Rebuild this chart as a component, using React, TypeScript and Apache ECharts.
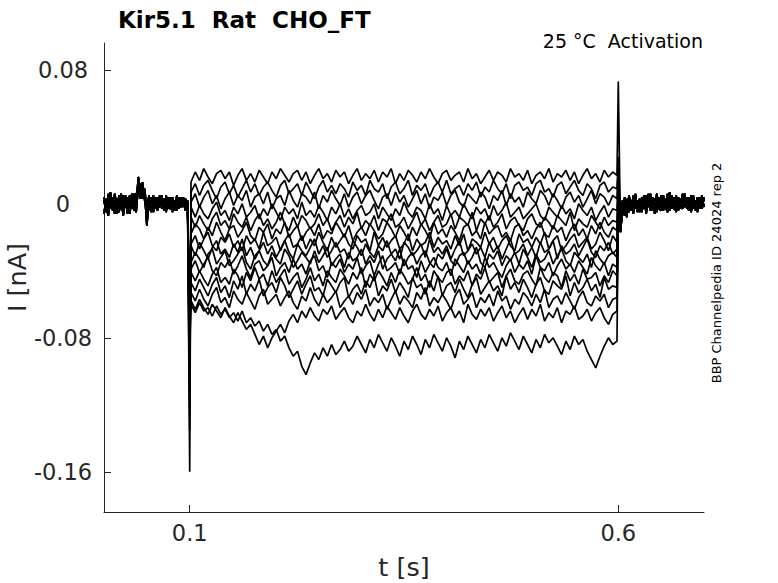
import { useEffect, useRef } from "react";
import * as echarts from "echarts";

// Axis ticks (t in s, I in nA)
const xTicks = [0.1, 0.6];
const yTicks = [-0.16, -0.08, 0, 0.08];

// Baseline segments before the step (t = 0 .. 0.0975 s, step 0.0025 s), values in 1e-3 nA
const preA = [2, -5, 6, -3, 4, -6, 3, -2, 6, -4, 2, -6, 5, -3, 6, -2, 16, 8, 10, 6, -13, 3, -5, 5, -3, 4, -2, 5, -4, 3, -3, 4, -5, 2, -3, 4, -2, 3, -4, 2];
const preB = [-6, 3, -2, 7, -4, 2, -6, 5, -3, 5, -2, 4, -6, 3, -4, 6, 7, 12, 3, 9, -6, -3, 4, -5, 2, -4, 5, -3, 3, -5, 4, -2, 3, -4, 5, -3, 4, -2, 3, -3];
const preC = [4, -2, -7, 2, -3, 6, -1, -5, 2, -7, 5, 0, -3, 6, -2, -5, 10, 3, 13, 2, -4, 5, -2, -4, 4, -3, -1, 3, -4, 5, -2, -3, 4, -1, -4, 3, -2, 4, -3, 1];

// Baseline segments after the step (t = 0.6025 .. 0.7 s, step 0.0025 s), values in 1e-3 nA
const postA = [-14, -6, 4, -5, 3, -4, 5, -3, 2, -5, 4, -3, 5, -2, 6, -4, 3, -5, 4, -2, 5, -3, 6, -4, 2, -3, 5, -4, 3, -2, 5, -3, 4, -5, 3, -2, 4, -3, 5, -2];
const postB = [-10, 2, -7, 3, -5, 2, -6, 4, -4, 3, -5, 2, -4, 6, -3, 4, -6, 2, -3, 5, -4, 3, -2, 7, -3, 4, -5, 3, -3, 6, -2, 4, -4, 5, -3, 2, -5, 4, -2, 3];
const postC = [-17, -3, -2, -8, 5, -2, -3, 6, -5, 1, -2, 5, -6, 3, -4, 2, -1, 6, -3, -4, 4, -2, -5, 3, 5, -3, -4, 4, -1, -3, 6, -2, -4, 2, 5, -4, -1, 3, -3, 4];

// Capacitive transients at step on (t = 0.1) and off (t = 0.6), 1e-3 nA
const onsetPeak = [-160, -135, -122, -110, -100, -95, -90, -86, -82, -78, -75, -72, -70, -68, -84];
const offsetPeak = [73, 28, 22, 18, 12, 10, 8, 6, 5, 4, 3, 2, 2, 1, 0];

// Currents during the step (t = 0.1015 .. 0.5985 s, 101 evenly spaced samples), 1e-3 nA
const trace00 = [13, 19, 14, 21, 16, 12, 18, 20, 15, 19, 11, 17, 21, 14, 18, 13, 20, 16, 12, 19, 15, 21, 17, 13, 18, 20, 14, 19, 12, 17, 21, 15, 18, 13, 20, 16, 19, 12, 17, 21, 14, 18, 15, 20, 13, 19, 16, 21, 12, 18, 14, 20, 17, 13, 19, 15, 21, 16, 12, 18, 20, 14, 17, 19, 13, 21, 15, 18, 12, 16, 20, 14, 19, 17, 13, 21, 16, 18, 14, 20, 12, 17, 19, 15, 21, 13, 18, 16, 20, 14, 19, 12, 17, 21, 15, 18, 13, 20, 16, 19, 17];
const trace01 = [7, 12, 5, 11, 14, 8, 3, 10, 13, 6, 11, 4, 9, 14, 7, 12, 5, 10, 13, 8, 4, 11, 14, 6, 9, 12, 5, 13, 8, 3, 10, 14, 7, 11, 6, 12, 9, 4, 13, 8, 11, 5, 14, 9, 7, 12, 3, 10, 13, 6, 9, 14, 5, 11, 8, 12, 4, 10, 13, 7, 14, 6, 9, 11, 5, 12, 8, 13, 4, 10, 7, 14, 9, 6, 12, 3, 11, 13, 8, 10, 5, 12, 14, 7, 9, 4, 11, 13, 6, 10, 14, 8, 5, 12, 9, 3, 11, 13, 7, 10, 9];
const trace02 = [1, 6, -2, 4, 8, 0, 5, -3, 3, 7, -1, 5, 2, 8, -2, 4, 6, 0, 7, -3, 3, 5, -1, 8, 2, -2, 6, 4, 0, 7, -3, 5, 1, 8, 3, -1, 6, -2, 4, 7, 0, 5, 8, 2, -3, 4, 6, -1, 7, 1, 5, -2, 3, 8, 0, 6, -3, 4, 2, 7, -1, 5, 8, 1, -2, 6, 3, 0, 7, 4, -3, 5, 2, 8, -1, 6, 1, 4, -2, 7, 3, 0, 8, 5, -1, 6, 2, -3, 4, 7, 1, 5, -2, 3, 8, 0, 6, 4, -1, 5, 3];
const trace03 = [-2, -8, -1, -6, -9, -3, 1, -7, -4, -10, -2, -6, 0, -8, -5, -1, -9, -3, -7, 0, -5, -10, -2, -6, -3, -9, 1, -7, -4, -8, -1, -5, -10, -2, -6, 0, -8, -3, -9, -4, -1, -7, -5, 0, -9, -2, -6, -10, -3, -7, 1, -5, -8, -2, -4, -9, 0, -6, -3, -10, -1, -7, -4, -8, 0, -5, -9, -2, -6, -3, -10, -1, -7, -4, 1, -8, -5, -2, -9, -6, -3, 0, -7, -10, -2, -5, -8, -1, -6, -3, -9, 0, -4, -7, -2, -10, -5, -1, -8, -3, -4];
const trace04 = [-8, -14, -7, -12, -16, -9, -5, -13, -10, -15, -6, -11, -14, -8, -16, -10, -6, -13, -9, -15, -11, -5, -12, -16, -8, -14, -7, -10, -15, -12, -6, -13, -9, -16, -11, -7, -14, -8, -12, -5, -15, -10, -13, -7, -16, -9, -11, -6, -14, -12, -8, -15, -10, -5, -13, -9, -16, -11, -7, -14, -12, -6, -15, -8, -10, -13, -5, -16, -9, -12, -7, -14, -11, -6, -15, -10, -8, -13, -16, -9, -6, -12, -14, -8, -11, -15, -7, -10, -13, -5, -16, -9, -12, -14, -7, -11, -15, -8, -13, -10, -11];
const trace05 = [-18, -12, -15, -21, -14, -19, -11, -17, -22, -15, -13, -20, -16, -11, -19, -22, -14, -17, -12, -21, -15, -18, -11, -20, -16, -13, -22, -17, -14, -19, -12, -21, -16, -18, -11, -15, -20, -13, -22, -17, -14, -19, -12, -16, -21, -18, -11, -15, -20, -13, -17, -22, -14, -19, -12, -16, -21, -11, -18, -15, -20, -13, -17, -22, -14, -12, -19, -16, -21, -11, -18, -15, -13, -20, -17, -22, -14, -12, -19, -16, -21, -15, -11, -18, -20, -13, -17, -14, -22, -16, -12, -19, -15, -21, -13, -18, -11, -17, -20, -14, -16];
const trace06 = [-24, -19, -27, -21, -17, -25, -28, -20, -23, -18, -26, -22, -28, -19, -24, -21, -27, -17, -25, -23, -20, -28, -22, -18, -26, -24, -19, -27, -21, -25, -17, -23, -28, -20, -26, -22, -18, -24, -27, -19, -23, -21, -28, -17, -25, -20, -26, -22, -19, -27, -24, -18, -28, -21, -25, -23, -17, -26, -20, -24, -22, -27, -19, -25, -18, -28, -21, -23, -26, -17, -24, -20, -27, -22, -19, -25, -28, -18, -23, -21, -26, -20, -24, -17, -27, -22, -19, -28, -25, -21, -18, -26, -23, -20, -27, -24, -17, -22, -28, -19, -23];
const trace07 = [-25, -31, -23, -28, -33, -26, -22, -30, -27, -32, -24, -29, -21, -31, -26, -33, -28, -23, -30, -25, -32, -27, -22, -29, -33, -24, -28, -31, -26, -21, -30, -25, -32, -28, -23, -29, -27, -33, -22, -26, -31, -24, -29, -32, -25, -28, -22, -30, -27, -33, -23, -26, -31, -28, -24, -32, -21, -29, -26, -30, -25, -33, -27, -22, -31, -28, -24, -30, -26, -32, -23, -29, -25, -33, -27, -21, -30, -28, -24, -31, -26, -32, -23, -29, -27, -22, -33, -25, -30, -28, -24, -31, -26, -21, -29, -32, -25, -28, -23, -30, -27];
const trace08 = [-35, -29, -33, -38, -30, -27, -36, -32, -28, -37, -34, -30, -26, -35, -39, -31, -28, -34, -37, -29, -33, -36, -27, -31, -38, -34, -29, -32, -36, -28, -35, -31, -26, -37, -33, -30, -38, -29, -34, -32, -27, -36, -31, -35, -28, -39, -33, -30, -34, -27, -37, -32, -29, -36, -31, -28, -35, -38, -30, -33, -27, -34, -37, -31, -29, -36, -32, -26, -35, -38, -30, -33, -28, -37, -31, -34, -29, -36, -27, -32, -38, -30, -35, -33, -28, -36, -31, -27, -34, -37, -29, -32, -35, -30, -38, -28, -33, -36, -31, -29, -32];
const trace09 = [-39, -34, -41, -36, -32, -40, -43, -35, -38, -33, -42, -37, -31, -39, -44, -36, -34, -40, -37, -32, -43, -38, -35, -41, -33, -39, -36, -42, -34, -31, -40, -37, -44, -35, -38, -33, -41, -36, -39, -32, -42, -37, -34, -43, -36, -31, -40, -38, -35, -42, -33, -39, -37, -44, -34, -41, -36, -32, -38, -40, -35, -43, -33, -37, -41, -34, -39, -36, -42, -32, -38, -35, -40, -44, -37, -33, -41, -36, -39, -34, -42, -31, -38, -40, -35, -43, -37, -33, -39, -36, -41, -34, -38, -42, -32, -37, -40, -35, -43, -36, -38];
const trace10 = [-41, -46, -40, -45, -49, -42, -38, -47, -44, -48, -39, -43, -50, -41, -46, -38, -45, -42, -49, -40, -47, -43, -39, -48, -44, -41, -50, -45, -38, -46, -42, -49, -40, -44, -47, -39, -43, -48, -41, -45, -38, -50, -42, -46, -40, -44, -49, -41, -47, -39, -43, -48, -45, -38, -46, -42, -50, -40, -44, -47, -41, -39, -48, -43, -46, -40, -49, -42, -45, -38, -47, -44, -41, -50, -43, -39, -46, -48, -42, -40, -45, -49, -38, -44, -47, -41, -43, -50, -40, -46, -42, -48, -39, -45, -44, -41, -49, -43, -47, -40, -43];
const trace11 = [-47, -52, -45, -50, -55, -48, -44, -53, -49, -56, -46, -51, -43, -54, -48, -52, -45, -55, -50, -47, -53, -44, -49, -56, -51, -46, -54, -48, -43, -52, -50, -55, -45, -49, -53, -47, -44, -56, -51, -48, -54, -46, -50, -43, -55, -49, -52, -45, -53, -47, -51, -56, -44, -50, -48, -54, -46, -52, -43, -55, -49, -47, -53, -45, -51, -56, -48, -44, -54, -50, -46, -52, -49, -55, -43, -51, -47, -53, -45, -50, -56, -48, -44, -52, -54, -46, -49, -51, -43, -55, -47, -53, -50, -45, -52, -48, -56, -44, -51, -49, -50];
const trace12 = [-53, -58, -51, -57, -61, -54, -50, -59, -56, -62, -52, -57, -60, -53, -58, -63, -55, -51, -60, -57, -54, -61, -56, -52, -59, -63, -55, -58, -50, -57, -61, -54, -59, -56, -52, -62, -58, -55, -60, -53, -57, -51, -61, -56, -59, -54, -63, -57, -52, -60, -55, -58, -62, -53, -57, -50, -61, -56, -59, -54, -58, -63, -55, -51, -60, -57, -53, -62, -56, -59, -54, -61, -52, -58, -55, -63, -57, -60, -53, -56, -61, -54, -59, -51, -62, -57, -55, -60, -53, -58, -63, -56, -52, -59, -61, -55, -58, -54, -62, -57, -56];
const trace13 = [-58, -63, -57, -62, -66, -60, -64, -68, -62, -67, -71, -65, -70, -75, -72, -78, -84, -79, -86, -80, -76, -72, -77, -70, -66, -71, -64, -68, -62, -67, -70, -63, -66, -61, -69, -65, -62, -68, -71, -64, -67, -60, -66, -70, -63, -68, -61, -65, -69, -62, -67, -71, -64, -60, -66, -69, -63, -67, -61, -70, -65, -62, -68, -64, -71, -60, -66, -69, -63, -67, -62, -70, -65, -61, -68, -64, -71, -66, -62, -69, -63, -67, -60, -70, -65, -68, -62, -71, -64, -66, -61, -69, -67, -63, -70, -65, -62, -68, -72, -66, -64];
const trace14 = [-60, -65, -59, -64, -62, -67, -61, -66, -63, -68, -65, -70, -64, -71, -68, -73, -70, -76, -72, -78, -75, -82, -79, -86, -91, -88, -97, -102, -95, -89, -93, -86, -91, -84, -90, -87, -82, -88, -85, -79, -84, -89, -81, -86, -78, -83, -88, -80, -85, -91, -82, -87, -79, -84, -90, -81, -86, -78, -83, -88, -80, -85, -92, -82, -87, -79, -84, -89, -81, -86, -78, -83, -88, -80, -85, -77, -82, -87, -79, -84, -89, -81, -86, -78, -83, -80, -85, -90, -82, -87, -79, -84, -81, -88, -93, -98, -91, -85, -80, -84, -82];

const pulses = [trace00, trace01, trace02, trace03, trace04, trace05, trace06, trace07, trace08, trace09, trace10, trace11, trace12, trace13, trace14];
const preSets = [preA, preB, preC];
const postSets = [postA, postB, postC];

function buildTrace(i: number): [number, number][] {
  const pts: [number, number][] = [];
  const pre = preSets[i % preSets.length];
  const post = postSets[i % postSets.length];
  const pulse = pulses[i];
  pre.forEach((v, j) => pts.push([j * 0.0025, v / 1000]));
  pts.push([0.1, onsetPeak[i] / 1000]);
  const span = 0.5985 - 0.1015;
  pulse.forEach((v, j) => pts.push([0.1015 + (j * span) / (pulse.length - 1), v / 1000]));
  pts.push([0.6, offsetPeak[i] / 1000]);
  post.forEach((v, j) => pts.push([0.6025 + j * 0.0025, v / 1000]));
  return pts;
}

export default function App() {
  const ref = useRef<HTMLDivElement>(null);
  useEffect(() => {
    if (!ref.current) return;
    const chart = echarts.init(ref.current, null, { renderer: "svg" });
    const axisColor = "#262626";
    const font = "DejaVu Sans";
    chart.setOption({
      animation: false,
      backgroundColor: "#ffffff",
      grid: { left: 104, right: 74, top: 43, bottom: 71, containLabel: false, outerBoundsMode: "none" },
      xAxis: {
        type: "value",
        min: 0,
        max: 0.7,
        name: "t [s]",
        nameLocation: "middle",
        nameGap: 42,
        nameTextStyle: { fontSize: 25.5, color: axisColor, fontFamily: font },
        axisLine: { show: true, onZero: false, lineStyle: { color: axisColor, width: 1 } },
        axisTick: { show: true, inside: true, length: 7, customValues: xTicks, lineStyle: { color: axisColor } },
        axisLabel: { show: true, customValues: xTicks, margin: 9, fontSize: 22.5, color: axisColor, fontFamily: font, formatter: (v: number) => String(v) },
        splitLine: { show: false },
      },
      yAxis: {
        type: "value",
        min: -0.184,
        max: 0.096,
        name: "I [nA]",
        nameLocation: "middle",
        nameGap: 74,
        nameMoveOverlap: false,
        nameTextStyle: { fontSize: 25.5, color: axisColor, fontFamily: font },
        axisLine: { show: true, onZero: false, lineStyle: { color: axisColor, width: 1 } },
        axisTick: { show: true, inside: true, length: 7, customValues: yTicks, lineStyle: { color: axisColor } },
        axisLabel: { show: true, customValues: yTicks, margin: 41, align: "center", fontSize: 22.5, color: axisColor, fontFamily: font, formatter: (v: number) => (v === 0 ? "0" : String(v)) },
        splitLine: { show: false },
      },
      graphic: [
        { type: "text", left: 118, top: 8, style: { text: "Kir5.1  Rat  CHO_FT", fontSize: 23, fontWeight: "bold", fill: "#000000", fontFamily: font } },
        { type: "text", x: 703, y: 41, style: { text: "25 °C  Activation", fontSize: 19, fill: "#000000", fontFamily: font, align: "right", verticalAlign: "middle" } },
        { type: "text", x: 716, y: 273, rotation: Math.PI / 2, style: { text: "BBP Channelpedia ID 24024 rep 2", fontSize: 13, fill: "#000000", fontFamily: font, align: "center", verticalAlign: "middle" } },
      ],
      series: pulses.map((_, i) => ({
        type: "line",
        data: buildTrace(i),
        showSymbol: false,
        symbol: "none",
        silent: true,
        lineStyle: { color: "#000000", width: 1.7 },
      })),
    });
    return () => chart.dispose();
  }, []);
  return <div ref={ref} style={{ position: "absolute", left: 0, top: 0, width: 778, height: 583 }} />;
}
